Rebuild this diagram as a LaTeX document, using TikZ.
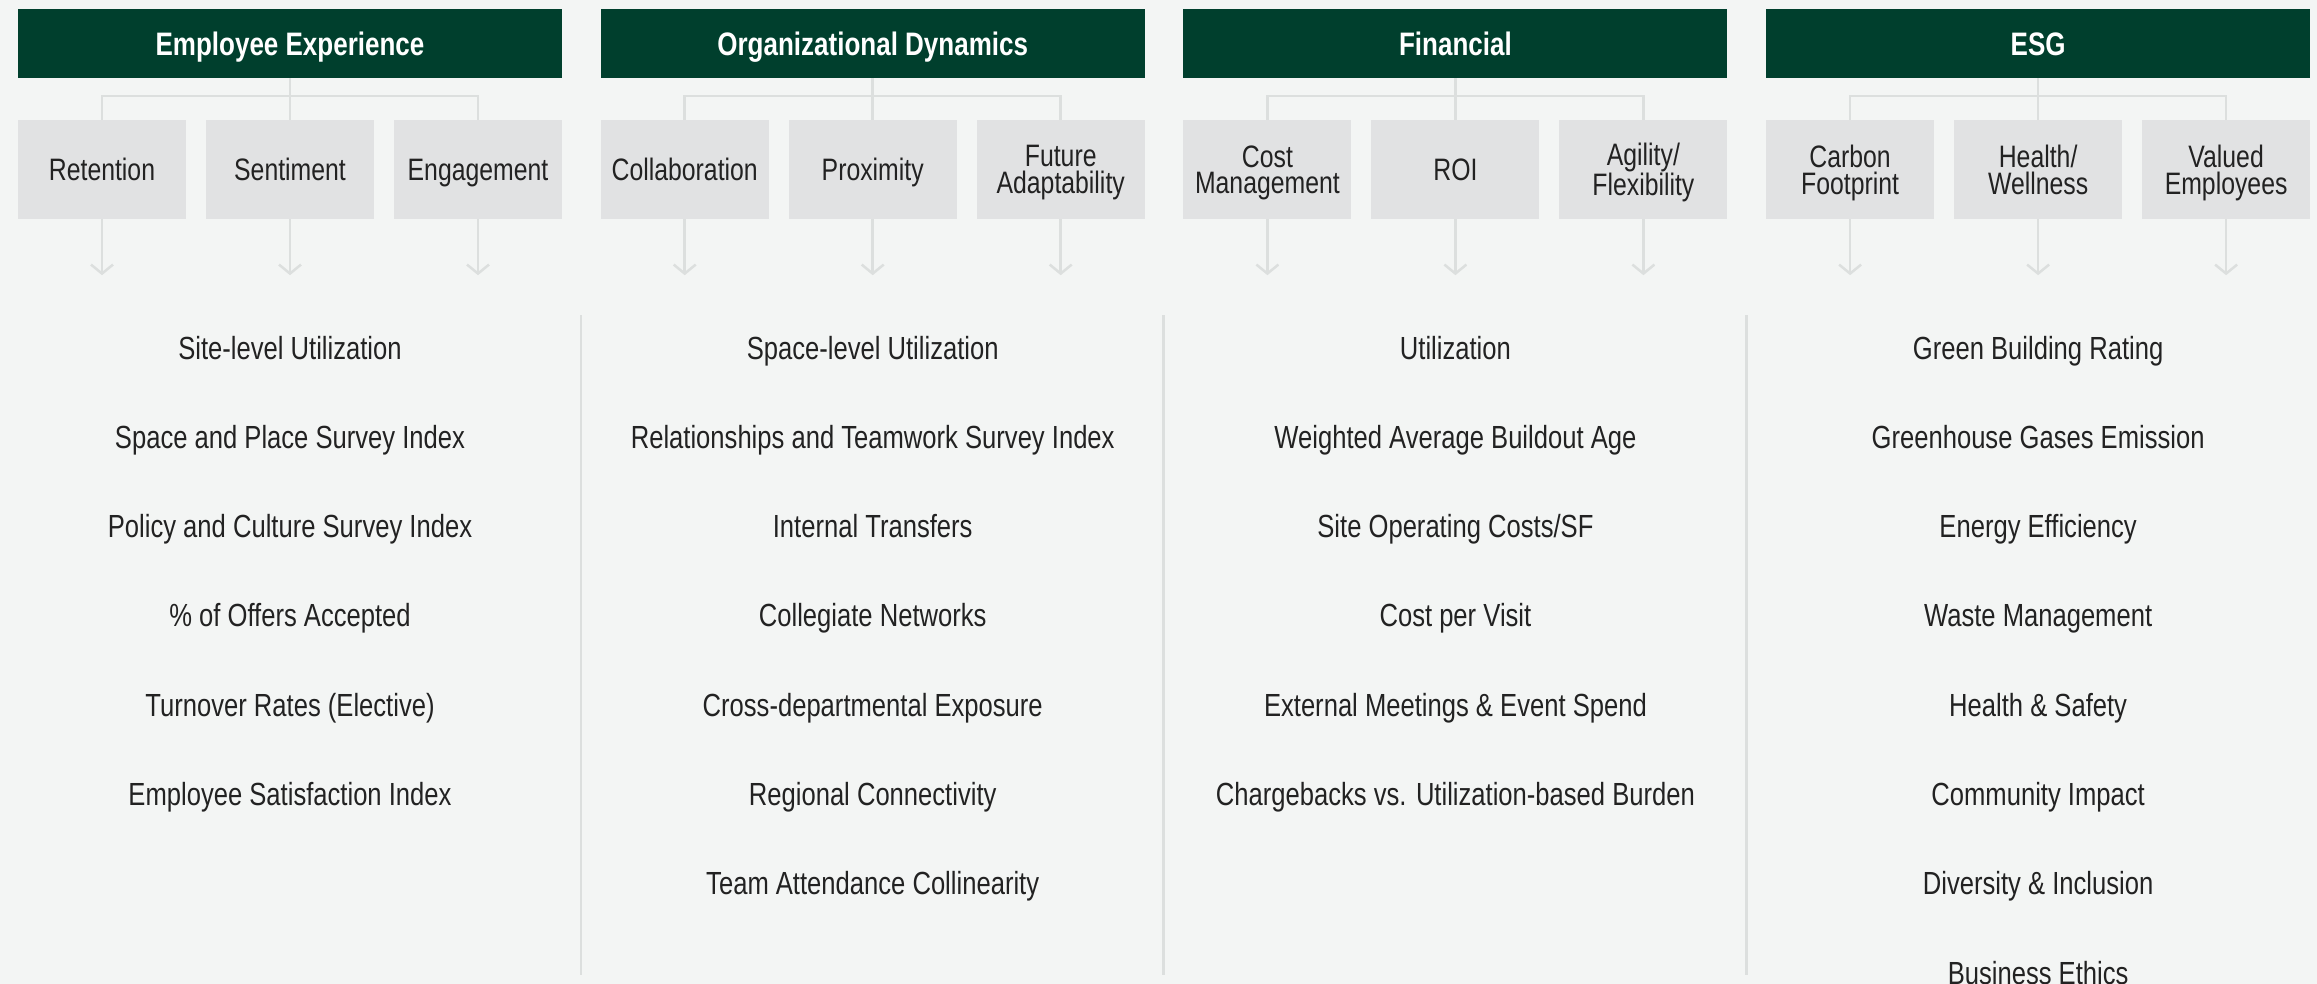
\documentclass[tikz,border=0pt]{standalone}
\usepackage{fontspec}
\setmainfont{Liberation Sans}[FakeStretch=0.8]
\usetikzlibrary{arrows.meta,positioning}
\definecolor{canvas}{HTML}{F3F5F4}
\definecolor{forest}{HTML}{003F2D}
\definecolor{chip}{HTML}{E1E2E3}
\definecolor{rule}{HTML}{DCDFDE}
\definecolor{ink}{HTML}{222222}

\begin{document}
\begin{tikzpicture}[
  x=1pt,y=-1pt,
  head/.style={fill=forest,text=white,minimum width=544pt,minimum height=69pt,
               inner sep=0pt,text height=23.5pt,text depth=0pt,
               font=\fontsize{32.5}{27}\selectfont\bfseries},
  leaf/.style={fill=chip,text=ink,minimum width=168pt,minimum height=99pt,
               inner sep=0pt,align=center,text depth=0pt,
               font=\fontsize{31}{26.6}\selectfont},
  link/.style={draw=rule,line width=2.5pt},
  drop/.style={link,-{Straight Barb[length=9pt,width=22pt,line width=2.5pt]}},
  metric/.style={text=ink,anchor=base,inner sep=0pt,font=\fontsize{32}{27}\selectfont},
]
\fill[canvas] (0,0) rectangle (2317,984);
\useasboundingbox (0,0) rectangle (2317,984);

% Four pillars across the top.
\foreach \c/\name in {0/Employee Experience, 1/Organizational Dynamics,
                      2/Financial, 3/ESG} {
  \node[head] (h\c) at ({290+582.7*\c},43.5) {\name};
}

% Three drivers under each pillar.
\foreach \c/\k/\lbl in {0/0/Retention, 0/1/Sentiment, 0/2/Engagement,
    1/0/Collaboration, 1/1/Proximity, 1/2/{Future\\Adaptability},
    2/0/{Cost\\Management}, 2/1/ROI, 2/2/{Agility/\\Flexibility},
    3/0/{Carbon\\Footprint}, 3/1/{Health/\\Wellness}, 3/2/{Valued\\Employees}} {
  \node[leaf] (c\c\k) at ({102+188*\k+582.7*\c},169.5) {\lbl};
  \draw[drop] (c\c\k.south) -- ++(0,56);
}

% Bracket from pillar to drivers.
\foreach \c in {0,...,3} {
  \draw[link] (c\c0.north) -- ++(0,-24) -| (c\c2.north);
  \draw[link] (h\c.south) -- (c\c1.north);
}

% Column dividers.
\foreach \c in {1,2,3} {
  \draw[link] ({581+582.7*(\c-1)},315) -- ({581+582.7*(\c-1)},975);
}

% Measures listed per pillar.
\foreach \c/\items in {
  0/{Site-level Utilization, Space and Place Survey Index,
     Policy and Culture Survey Index, \% of Offers Accepted,
     Turnover Rates (Elective), Employee Satisfaction Index},
  1/{Space-level Utilization, Relationships and Teamwork Survey Index,
     Internal Transfers, Collegiate Networks, Cross-departmental Exposure,
     Regional Connectivity, Team Attendance Collinearity},
  2/{Utilization, Weighted Average Buildout Age, Site Operating Costs/SF,
     Cost per Visit, External Meetings \& Event Spend,
     Chargebacks vs. Utilization-based Burden},
  3/{Green Building Rating, Greenhouse Gases Emission, Energy Efficiency,
     Waste Management, Health \& Safety, Community Impact,
     Diversity \& Inclusion, Business Ethics}} {
  \foreach \m [count=\r from 0] in \items {
    \node[metric] (m\c-\r) at ({290+582.7*\c},{359+89.3*\r}) {\m};
  }
}

\end{tikzpicture}
\end{document}
